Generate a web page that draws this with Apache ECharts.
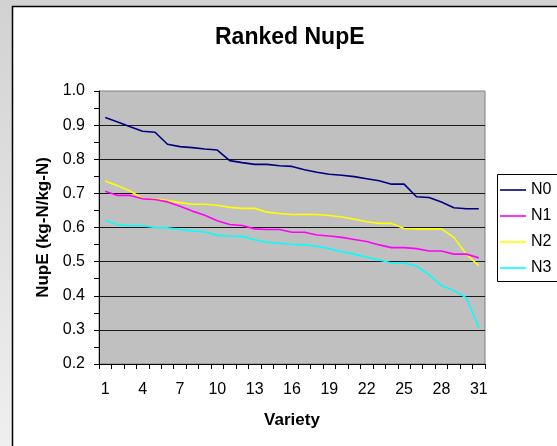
<!DOCTYPE html>
<html>
<head>
<meta charset="utf-8">
<script src="https://cdn.jsdelivr.net/npm/echarts@6/dist/echarts.min.js"></script>
<style>
  html, body { margin: 0; padding: 0; overflow: hidden; }
  #chart { width: 557px; height: 446px; }
</style>
</head>
<body>
<div id="chart"></div>
<script>
// Varieties ranked by NupE, 1..31
const varieties = Array.from({ length: 31 }, (_, i) => String(i + 1));

const seriesNames = ['N0', 'N1', 'N2', 'N3'];

const n0 = [0.922, 0.909, 0.895, 0.882, 0.879, 0.844, 0.837, 0.834, 0.830, 0.827,
            0.796, 0.790, 0.785, 0.785, 0.781, 0.779, 0.769, 0.762, 0.756, 0.753,
            0.749, 0.743, 0.737, 0.727, 0.727, 0.690, 0.688, 0.675, 0.658, 0.655, 0.655];

const n1 = [0.706, 0.694, 0.694, 0.684, 0.682, 0.675, 0.662, 0.648, 0.636, 0.620,
            0.609, 0.606, 0.596, 0.594, 0.594, 0.586, 0.586, 0.578, 0.575, 0.571,
            0.565, 0.559, 0.549, 0.541, 0.541, 0.538, 0.531, 0.531, 0.522, 0.522, 0.511];

const n2 = [0.736, 0.722, 0.707, 0.685, 0.684, 0.679, 0.673, 0.668, 0.668, 0.665,
            0.659, 0.656, 0.656, 0.645, 0.641, 0.638, 0.638, 0.638, 0.635, 0.631,
            0.624, 0.617, 0.612, 0.612, 0.597, 0.596, 0.596, 0.596, 0.571, 0.522, 0.488];

const n3 = [0.621, 0.608, 0.605, 0.605, 0.600, 0.599, 0.594, 0.590, 0.587, 0.577,
            0.575, 0.574, 0.564, 0.557, 0.554, 0.551, 0.549, 0.545, 0.538, 0.529,
            0.522, 0.513, 0.505, 0.496, 0.496, 0.487, 0.462, 0.430, 0.415, 0.394, 0.307];

const seriesColors = ['#000080', '#ff00ff', '#ffff00', '#00ffff'];
const seriesValues = [n0, n1, n2, n3];

const yTicks = { min: 0.2, max: 1.0, step: 0.1 };

const FONT = 'Arial, "Liberation Sans", sans-serif';

const chart = echarts.init(document.getElementById('chart'), null, { renderer: 'canvas' });

chart.setOption({
  animation: false,
  textStyle: { fontFamily: FONT, color: '#000' },
  graphic: [
    {
      type: 'rect', z: -10, silent: true,
      shape: { x: 0, y: 0, width: 557, height: 446 },
      style: {
        fill: new echarts.graphic.LinearGradient(0, 0, 0, 1, [
          { offset: 0, color: '#d2d2d2' },
          { offset: 1, color: '#efefef' }
        ])
      }
    },
    {
      type: 'rect', z: -9, silent: true,
      shape: { x: 12.5, y: 6.5, width: 620, height: 520 },
      style: { fill: '#ffffff', stroke: '#000000', lineWidth: 1.5 }
    },
    {
      type: 'rect', z: -8, silent: true,
      shape: { x: 497.5, y: 174.5, width: 100, height: 107 },
      style: { fill: '#ffffff', stroke: '#000000', lineWidth: 1 }
    }
  ],
  title: {
    text: 'Ranked NupE',
    left: 215,
    top: 26,
    padding: 0,
    textStyle: { fontFamily: FONT, fontSize: 23, fontWeight: 'bold', color: '#000' }
  },
  legend: {
    orient: 'vertical',
    left: 500,
    top: 182,
    padding: 0,
    icon: 'rect',
    itemWidth: 26,
    itemHeight: 1.6,
    itemGap: 10,
    data: seriesNames,
    textStyle: { fontFamily: FONT, fontSize: 16, lineHeight: 16, color: '#000' }
  },
  grid: {
    left: 99,
    top: 91,
    right: 72,
    bottom: 82,
    show: true,
    backgroundColor: '#c0c0c0',
    borderColor: '#808080',
    borderWidth: 1
  },
  xAxis: {
    type: 'category',
    data: varieties,
    boundaryGap: true,
    name: 'Variety',
    nameLocation: 'middle',
    nameGap: 48,
    nameTextStyle: { fontFamily: FONT, fontSize: 17, fontWeight: 'bold', color: '#000' },
    axisLine: { lineStyle: { color: '#000', width: 1 } },
    axisTick: { show: true, interval: 0, alignWithLabel: false, length: 5, lineStyle: { color: '#000' } },
    axisLabel: { interval: 2, margin: 18, fontFamily: FONT, fontSize: 16, color: '#000' },
    splitLine: { show: false }
  },
  yAxis: {
    type: 'value',
    min: yTicks.min,
    max: yTicks.max,
    interval: yTicks.step,
    name: 'NupE (kg-N/kg-N)',
    nameLocation: 'middle',
    nameGap: 47,
    nameTextStyle: { fontFamily: FONT, fontSize: 17, fontWeight: 'bold', color: '#000' },
    axisLine: { show: true, lineStyle: { color: '#000', width: 1 } },
    axisTick: { show: true, length: 5, lineStyle: { color: '#000' } },
    minorTick: { show: true, splitNumber: 2, length: 5, lineStyle: { color: '#000' } },
    axisLabel: {
      margin: 14, fontFamily: FONT, fontSize: 16, color: '#000',
      formatter: v => v.toFixed(1)
    },
    splitLine: { show: true, showMinLine: false, showMaxLine: false, lineStyle: { color: '#1a1a1a', width: 1.2 } }
  },
  series: seriesNames.map((name, i) => ({
    name,
    type: 'line',
    data: seriesValues[i],
    symbol: 'none',
    color: seriesColors[i],
    lineStyle: { color: seriesColors[i], width: 1.6 },
    z: 10 - i
  }))
});
</script>
</body>
</html>
